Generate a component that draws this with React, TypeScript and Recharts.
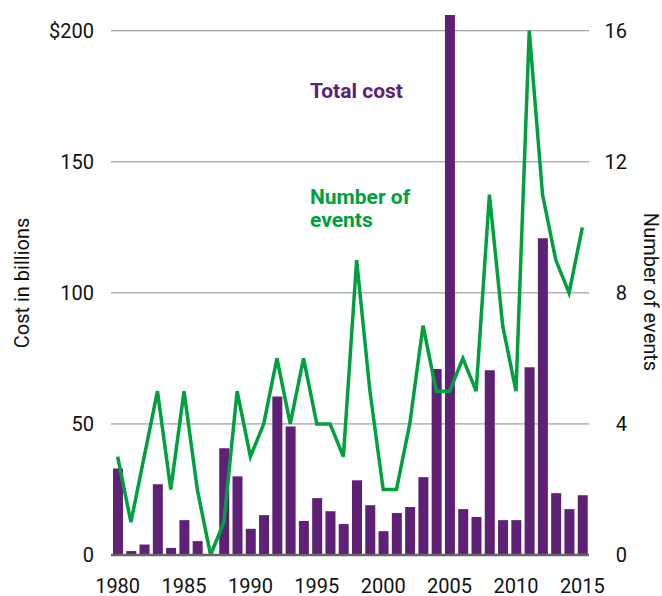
import { ComposedChart, Bar, Line, XAxis, YAxis, CartesianGrid } from "recharts";

const YEARS = [
  "1980", "1981", "1982", "1983", "1984", "1985", "1986", "1987", "1988", "1989",
  "1990", "1991", "1992", "1993", "1994", "1995", "1996", "1997", "1998", "1999",
  "2000", "2001", "2002", "2003", "2004", "2005", "2006", "2007", "2008", "2009",
  "2010", "2011", "2012", "2013", "2014", "2015",
];

// cost in billions of dollars
const COSTS = [
  33, 1.5, 4, 27, 2.7, 13.3, 5.3, 0, 40.7, 30,
  10, 15.2, 60.5, 49, 13, 21.7, 16.7, 11.8, 28.5, 19,
  9.1, 16, 18.3, 29.7, 71, 206, 17.5, 14.5, 70.5, 13.3,
  13.3, 71.6, 120.8, 23.6, 17.5, 22.8,
];

const EVENTS = [
  3, 1, 3, 5, 2, 5, 2, 0, 1, 5,
  3, 4, 6, 4, 6, 4, 4, 3, 9, 5,
  2, 2, 4, 7, 5, 5, 6, 5, 11, 7,
  5, 16, 11, 9, 8, 10,
];

const COST_TICKS = [0, 50, 100, 150, 200];
const EVENT_TICKS = [0, 4, 8, 12, 16];
const COST_MAX = 206;

const PURPLE = "#5e2176";
const GREEN = "#00a03f";
const FONT = "Roboto, 'Noto Sans', sans-serif";

const data = YEARS.map((year, i) => ({
  year,
  cost: COSTS[i],
  events: EVENTS[i],
}));

// right axis numbers are right-aligned against the title
function EventTick(props: any) {
  const { x, y, payload } = props;
  return (
    <text
      x={x}
      y={y}
      dy="0.355em"
      textAnchor="end"
      fontSize={20}
      fill="#111"
      fontFamily={FONT}
    >
      {payload.value}
    </text>
  );
}

export default function App() {
  const tickStyle = { fontSize: 20, fill: "#111", fontFamily: FONT };

  return (
    <div style={{ position: "absolute", left: 0, top: 0, width: 662, height: 596, fontFamily: FONT }}>
      <ComposedChart
        width={662}
        height={596}
        data={data}
        margin={{ top: 15, right: 0, bottom: 6, left: 0 }}
        barCategoryGap={0}
      >
        <CartesianGrid
          yAxisId="cost"
          vertical={false}
          stroke="#8c8c8c"
          strokeWidth={1}
          // only the tick values above zero get a grid line, not the top of the plot
          horizontalCoordinatesGenerator={({ offset }: any) =>
            COST_TICKS.filter((t) => t > 0).map(
              (t) => offset.top + offset.height * (1 - t / COST_MAX)
            )
          }
        />
        <XAxis
          dataKey="year"
          interval={4}
          height={35}
          tickLine={false}
          tickSize={0}
          tickMargin={24}
          axisLine={{ stroke: "#666", strokeWidth: 2.5 }}
          tick={tickStyle}
        />
        <YAxis
          yAxisId="cost"
          orientation="left"
          width={111}
          domain={[0, COST_MAX]}
          ticks={COST_TICKS}
          allowDataOverflow
          axisLine={false}
          tickLine={false}
          tickSize={0}
          tickMargin={17}
          tick={tickStyle}
          tickFormatter={(v: number) => (v === 200 ? "$200" : String(v))}
        />
        <YAxis
          yAxisId="events"
          orientation="right"
          width={73}
          domain={[0, 16.48]}
          ticks={EVENT_TICKS}
          allowDataOverflow
          axisLine={false}
          tickLine={false}
          tickSize={0}
          tickMargin={38}
          tick={EventTick}
        />
        <Bar
          yAxisId="cost"
          dataKey="cost"
          fill={PURPLE}
          barSize={10}
          isAnimationActive={false}
        />
        <Line
          yAxisId="events"
          dataKey="events"
          type="linear"
          stroke={GREEN}
          strokeWidth={3.5}
          dot={false}
          activeDot={false}
          isAnimationActive={false}
        />
      </ComposedChart>

      {/* axis titles */}
      <div
        style={{
          position: "absolute",
          left: 22,
          top: 283,
          transform: "translate(-50%, -50%) rotate(-90deg)",
          whiteSpace: "nowrap",
          fontSize: 20,
          color: "#111",
        }}
      >
        Cost in billions
      </div>
      <div
        style={{
          position: "absolute",
          left: 651,
          top: 292,
          transform: "translate(-50%, -50%) rotate(90deg)",
          whiteSpace: "nowrap",
          fontSize: 20,
          color: "#111",
        }}
      >
        Number of events
      </div>

      {/* series labels */}
      <div
        style={{
          position: "absolute",
          left: 310,
          top: 79,
          fontSize: 21,
          lineHeight: "24px",
          fontWeight: 700,
          color: PURPLE,
          whiteSpace: "nowrap",
        }}
      >
        Total cost
      </div>
      <div
        style={{
          position: "absolute",
          left: 310,
          top: 186,
          fontSize: 21,
          lineHeight: "23px",
          fontWeight: 700,
          color: GREEN,
        }}
      >
        Number of
        <br />
        events
      </div>
    </div>
  );
}
